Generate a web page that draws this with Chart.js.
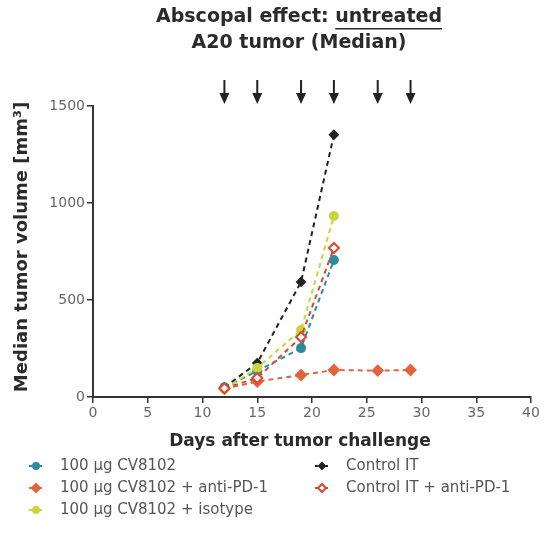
<!DOCTYPE html>
<html>
<head>
<meta charset="utf-8">
<script src="https://cdn.jsdelivr.net/npm/chart.js@4"></script>
<style>
  body { margin: 0; background: #fff; }
  #wrap { width: 544px; height: 533px; }
</style>
</head>
<body>
<div id="wrap"><canvas id="tumorChart" width="544" height="533"></canvas></div>
<script>
// data
const days = [12, 15, 19, 22, 26, 29];
const treatmentDays = [12, 15, 19, 22, 26, 29];
const xTicks = [0, 5, 10, 15, 20, 25, 30, 35, 40];
const yTicks = [0, 500, 1000, 1500];

const cv8102 = [50, 134, 252, 706];
const cv8102PD1 = [42, 80, 113, 139, 136, 139];
const cv8102Iso = [40, 150, 345, 933];
const controlIT = [50, 175, 593, 1352];
const controlPD1 = [45, 98, 309, 768];

const labels = [
    "100 µg CV8102",
    "100 µg CV8102 + anti-PD-1",
    "100 µg CV8102 + isotype",
    "Control IT",
    "Control IT + anti-PD-1"
];

const toPoints = vals => vals.map((v, i) => ({ x: days[i], y: v }));

document.addEventListener("DOMContentLoaded", () => {

    const series = [
        { data: cv8102, color: "#2a8c9e", fill: "#2a8c9e", style: "circle", r: 4 },
        { data: cv8102PD1, color: "#e4633f", fill: "#e4633f", style: "rectRot", r: 5 },
        { data: cv8102Iso, color: "#c9d63a", fill: "#c9d63a", style: "circle", r: 4 },
        { data: controlIT, color: "#222222", fill: "#222222", style: "rectRot", r: 4 },
        { data: controlPD1, color: "#d9482e", fill: "#ffffff", style: "rectRot", r: 5 }
    ];

    const datasets = series.map((s, i) => ({
        label: labels[i],
        data: toPoints(s.data),
        borderColor: s.color,
        backgroundColor: s.fill,
        pointBorderColor: s.color,
        pointBackgroundColor: s.fill,
        pointStyle: s.style,
        pointRadius: s.r,
        pointBorderWidth: 2,
        borderWidth: 2,
        borderDash: [5, 4],
        tension: 0
    }));

    // draw order: control IT on top like in the figure
    const order = [4, 2, 0, 1, 3];

    const decorPlugin = {
        id: "decor",
        afterDraw(chart) {
            const ctx = chart.ctx;
            const area = chart.chartArea;
            const x = chart.scales.x;
            ctx.save();

            // title
            ctx.fillStyle = "#2b2b2b";
            ctx.textBaseline = "middle";
            ctx.font = "bold 19px 'DejaVu Sans'";
            const part1 = "Abscopal effect: ";
            const part2 = "untreated";
            const w1 = ctx.measureText(part1).width;
            const w2 = ctx.measureText(part2).width;
            const startX = 299 - (w1 + w2) / 2;
            ctx.textAlign = "left";
            ctx.fillText(part1, startX, 17);
            ctx.fillText(part2, startX + w1, 17);
            ctx.fillRect(startX + w1, 28, w2, 1.5);
            ctx.textAlign = "center";
            ctx.fillText("A20 tumor (Median)", 299, 43);

            // treatment arrows
            ctx.strokeStyle = "#222";
            ctx.fillStyle = "#222";
            ctx.lineWidth = 2;
            treatmentDays.forEach(d => {
                const px = x.getPixelForValue(d);
                ctx.beginPath();
                ctx.moveTo(px, 80);
                ctx.lineTo(px, 98);
                ctx.stroke();
                ctx.beginPath();
                ctx.moveTo(px - 5, 93);
                ctx.lineTo(px + 5, 93);
                ctx.lineTo(px, 104);
                ctx.closePath();
                ctx.fill();
            });

            // axis titles
            ctx.fillStyle = "#2b2b2b";
            ctx.font = "bold 17px 'DejaVu Sans'";
            ctx.fillText("Days after tumor challenge", 300, 442);
            ctx.save();
            ctx.translate(22, 247);
            ctx.rotate(-Math.PI / 2);
            ctx.font = "bold 18px 'DejaVu Sans'";
            ctx.fillText("Median tumor volume [mm³]", 0, 0);
            ctx.restore();

            // legend, two columns
            const slots = [[36, 466], [36, 488], [36, 510], [322, 466], [322, 488]];
            ctx.font = "15px 'DejaVu Sans'";
            ctx.textAlign = "left";
            series.forEach((s, i) => {
                const [lx, ly] = slots[i];
                ctx.strokeStyle = s.color;
                ctx.lineWidth = 2;
                ctx.setLineDash([3, 2]);
                ctx.beginPath();
                ctx.moveTo(lx - 7, ly);
                ctx.lineTo(lx + 7, ly);
                ctx.stroke();
                ctx.setLineDash([]);
                ctx.fillStyle = s.fill;
                Chart.helpers.drawPoint(ctx, { pointStyle: s.style, radius: s.r - 1, borderWidth: 2 }, lx, ly);
                ctx.fillStyle = "#555";
                ctx.fillText(labels[i], lx + 24, ly);
            });
            ctx.restore();
        }
    };

    new Chart(document.getElementById("tumorChart"), {
        type: "line",
        data: { datasets: order.map(i => datasets[i]) },
        options: {
            responsive: false,
            animation: false,
            layout: { padding: { left: 0, right: 13, top: 106, bottom: 0 } },
            plugins: {
                legend: { display: false },
                title: { display: false },
                tooltip: { enabled: false }
            },
            scales: {
                x: {
                    type: "linear",
                    min: 0,
                    max: 40,
                    afterBuildTicks: s => { s.ticks = xTicks.map(v => ({ value: v })); },
                    afterFit: s => { s.height = 136; },
                    grid: { drawOnChartArea: false, drawTicks: true, tickLength: 6, color: "#333", lineWidth: 1.5 },
                    border: { color: "#333", width: 2 },
                    ticks: { color: "#666", font: { family: "DejaVu Sans", size: 14 }, padding: 2, maxRotation: 0 }
                },
                y: {
                    min: 0,
                    max: 1500,
                    afterBuildTicks: s => { s.ticks = yTicks.map(v => ({ value: v })); },
                    afterFit: s => { s.width = 93; },
                    grid: { drawOnChartArea: false, drawTicks: true, tickLength: 6, color: "#333", lineWidth: 1.5 },
                    border: { color: "#333", width: 2 },
                    ticks: { color: "#666", font: { family: "DejaVu Sans", size: 14 }, padding: 2, callback: v => String(v) }
                }
            }
        },
        plugins: [decorPlugin]
    });
});
</script>
</body>
</html>
